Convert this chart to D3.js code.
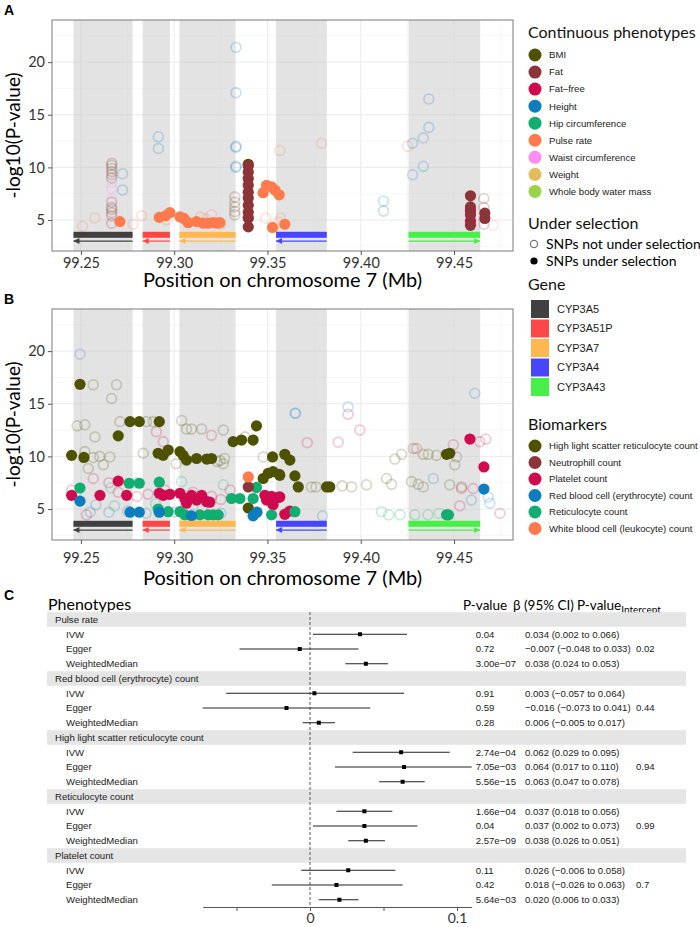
<!DOCTYPE html>
<html>
<head>
<meta charset="utf-8">
<script src="https://cdn.jsdelivr.net/npm/d3@7"></script>
<style>
body { margin: 0; background: #fff; }
text { font-family: Lato, "Open Sans", sans-serif; }
.sm { font-family: "Liberation Sans", Arial, sans-serif; font-size: 9.6px; fill: #1a1a1a; }
</style>
</head>
<body>
<script>
// ---------- genes ----------
const geneNames = ['CYP3A5', 'CYP3A51P', 'CYP3A7', 'CYP3A4', 'CYP3A43'];
const geneStart = [99.2460, 99.2831, 99.3028, 99.3546, 99.4256];
const geneEnd = [99.2777, 99.2977, 99.3329, 99.3818, 99.4640];
const geneStrand = [-1, -1, -1, -1, 1];
const geneColors = ['#404040', '#ff4646', '#ffb84f', '#4646ff', '#46f046'];

// ---------- panel A: continuous phenotypes ----------
const contNames = ['BMI', 'Fat', 'Fat\u2013free', 'Height', 'Hip circumference', 'Pulse rate',
  'Waist circumference', 'Weight', 'Whole body water mass'];
const contColors = ['#4e5200', '#8c3437', '#cf0a4f', '#0c7dbf', '#12ad70', '#ff7b4d', '#ff8cf5', '#e2bd5c', '#9bd14b'];

// SNPs under selection  [position Mb, -log10 p]
const aBMI = [[99.3397, 10.3]];
const aHip = [[99.3397, 5.2]];
const aFatFree = [[99.4588, 5.9], [99.4588, 4.9]];
const aFat = [[99.3397, 10.15], [99.3397, 9.55], [99.3397, 8.95], [99.3397, 8.3], [99.3397, 7.65], [99.3397, 7.1],
  [99.3397, 6.4], [99.3397, 5.75], [99.3397, 5.2], [99.3397, 4.35],
  [99.4588, 7.3], [99.4588, 6.25], [99.4588, 5.5], [99.4588, 4.5], [99.4665, 5.65], [99.4665, 5.15]];
const aPulse = [[99.2709, 4.85], [99.2920, 5.25], [99.2954, 5.4], [99.2977, 5.7], [99.3031, 5.3], [99.3052, 5.15],
  [99.3075, 4.75], [99.3120, 4.85], [99.3155, 4.7], [99.3182, 4.7], [99.3209, 4.75], [99.3230, 4.7], [99.3245, 4.75],
  [99.3477, 7.6], [99.3495, 8.3], [99.3522, 8.15], [99.3540, 7.85], [99.3563, 7.4], [99.3527, 4.3], [99.3593, 4.6]];

// SNPs not under selection
const aHeightNs = [[99.2723, 9.4], [99.2723, 7.85], [99.2915, 12.9], [99.2915, 11.8], [99.3331, 21.4], [99.3331, 17.1],
  [99.3331, 12.0], [99.3331, 11.9], [99.3331, 10.1], [99.3331, 10.0], [99.4365, 16.5], [99.4365, 13.8],
  [99.4335, 12.8], [99.4278, 12.3], [99.4335, 10.1], [99.4278, 9.3], [99.4122, 6.8], [99.4122, 5.85]];
const aPulseNs = [[99.2509, 4.4], [99.2575, 5.2], [99.2780, 4.6], [99.2825, 5.4], [99.2960, 5.0], [99.3060, 5.0],
  [99.3140, 5.3], [99.3170, 5.1], [99.3200, 5.5], [99.3250, 4.6], [99.3490, 5.2], [99.3570, 5.2], [99.3560, 4.8],
  [99.3790, 12.3], [99.4251, 12.0], [99.3566, 11.6]];
const aFatNs = [[99.2665, 10.4], [99.2665, 9.9], [99.2665, 9.6], [99.2665, 9.3], [99.2665, 6.7], [99.2665, 6.2],
  [99.2665, 5.7], [99.2665, 5.4], [99.2665, 4.7], [99.3325, 7.2], [99.3325, 6.25], [99.3325, 5.5],
  [99.4660, 7.05], [99.4660, 6.2], [99.4660, 4.6]];
const aBMINs = [[99.2665, 10.2], [99.2665, 9.0], [99.2665, 6.0], [99.3325, 6.7], [99.3325, 5.8]];
const aWaistNs = [[99.2665, 8.6], [99.2665, 8.0], [99.2665, 7.0], [99.4620, 4.6], [99.4710, 4.5]];

// ---------- panel B: biomarkers ----------
const bioNames = ['High light scatter reticulocyte count', 'Neutrophill count', 'Platelet count',
  'Red blood cell (erythrocyte) count', 'Reticulocyte count', 'White blood cell (leukocyte) count'];
const bioColors = ['#4e5200', '#8c3437', '#cf0a4f', '#0c7dbf', '#12ad70', '#ff7b4d'];

const bHlsr = [[99.2450, 10.1], [99.2516, 9.9], [99.2495, 16.85], [99.2700, 11.95], [99.2763, 13.3], [99.2813, 13.3],
  [99.2920, 13.3], [99.2914, 10.3], [99.2941, 10.1], [99.2968, 10.6], [99.3031, 10.45], [99.3048, 10.1],
  [99.3066, 9.65], [99.3120, 9.8], [99.3174, 9.75], [99.3200, 9.8], [99.3316, 11.4], [99.3361, 11.55],
  [99.3423, 11.55], [99.3441, 12.9], [99.3397, 5.1], [99.3477, 7.9], [99.3504, 8.4], [99.3530, 8.55],
  [99.3563, 8.3], [99.3566, 8.2], [99.3527, 9.95], [99.3593, 10.2], [99.3620, 9.65], [99.3647, 8.15],
  [99.3665, 7.1], [99.3817, 7.1], [99.3834, 7.1], [99.4460, 10.2], [99.4477, 10.3]];
const bNeutro = [[99.3397, 7.1]];
const bPlatelet = [[99.2450, 6.3], [99.2602, 6.3], [99.2700, 7.65], [99.2745, 6.3], [99.2920, 6.5], [99.2941, 6.3],
  [99.2977, 6.4], [99.3031, 6.5], [99.3057, 6.0], [99.3066, 5.55], [99.3093, 6.3], [99.3120, 5.85], [99.3147, 6.3],
  [99.3174, 5.7], [99.3191, 5.65], [99.3486, 6.3], [99.3495, 5.85], [99.3522, 6.2], [99.3530, 5.4], [99.3557, 6.1],
  [99.3566, 6.15], [99.3593, 4.5], [99.3620, 4.8], [99.4585, 11.65], [99.4660, 9.0]];
const bRbc = [[99.2495, 5.75], [99.2763, 4.7], [99.2813, 4.7], [99.2920, 4.7], [99.3093, 4.35], [99.3423, 4.35],
  [99.3444, 4.7], [99.4660, 6.9]];
const bRetic = [[99.2495, 7.0], [99.2759, 7.45], [99.2813, 7.45], [99.2920, 7.55], [99.2914, 5.0], [99.2968, 4.75],
  [99.3031, 4.75], [99.3057, 4.45], [99.3138, 4.45], [99.3182, 4.45], [99.3209, 4.45], [99.3236, 4.45],
  [99.3307, 6.0], [99.3352, 6.0], [99.3423, 6.0], [99.3441, 7.05], [99.3522, 4.45], [99.3647, 4.75],
  [99.4460, 4.45], [99.4470, 4.45]];
const bWbc = [[99.3397, 8.05]];

const bHlsrNs = [[99.2566, 16.8], [99.2691, 16.8], [99.2664, 15.5], [99.2521, 13.0], [99.2575, 11.85], [99.2709, 13.3],
  [99.2521, 10.45], [99.2566, 9.9], [99.2655, 9.95], [99.2539, 8.85], [99.2600, 10.0], [99.2620, 9.2],
  [99.2834, 10.3], [99.2852, 13.3], [99.2888, 13.3], [99.3040, 13.4], [99.3066, 12.6], [99.3093, 12.6],
  [99.3147, 12.6], [99.3263, 12.5], [99.3245, 9.6], [99.3263, 9.3], [99.3270, 9.8], [99.3379, 11.85],
  [99.3477, 9.95], [99.4183, 9.75], [99.4219, 10.2], [99.4281, 10.75], [99.4335, 10.2], [99.4362, 10.2],
  [99.4406, 10.1], [99.4513, 9.95], [99.4504, 9.2], [99.3736, 7.1], [99.3760, 7.1], [99.3900, 7.2],
  [99.3951, 7.1], [99.4031, 7.3], [99.4138, 7.9], [99.4165, 7.35], [99.4272, 7.6], [99.4308, 7.35],
  [99.4335, 7.1], [99.4477, 7.3], [99.4540, 7.1], [99.3010, 9.3], [99.3230, 9.5], [99.2480, 12.9]];
const bPlateletNs = [[99.3713, 11.3], [99.3879, 11.35], [99.3932, 14.0], [99.3995, 12.5], [99.4299, 10.75],
  [99.4496, 11.1], [99.4638, 11.4], [99.4670, 11.65], [99.4540, 6.95], [99.4602, 6.95], [99.4531, 5.3],
  [99.4746, 4.6], [99.2450, 6.8], [99.2530, 4.45], [99.2904, 12.35], [99.2941, 11.4], [99.3200, 12.0],
  [99.2566, 7.9], [99.2650, 7.5], [99.2700, 6.6], [99.2800, 6.2], [99.2950, 6.8], [99.3100, 6.6],
  [99.3200, 6.2], [99.3300, 6.8], [99.2860, 6.4], [99.3250, 5.9]];
const bRbcNs = [[99.2495, 19.7], [99.3647, 14.1], [99.3652, 14.1], [99.3932, 14.7], [99.4611, 16.0], [99.3795, 4.35],
  [99.4389, 7.9], [99.4593, 5.85], [99.4692, 5.55], [99.4683, 6.15], [99.2550, 4.7], [99.2580, 5.4],
  [99.2650, 4.7], [99.2750, 4.8], [99.2850, 4.6], [99.3000, 4.7], [99.3100, 4.5], [99.3250, 4.6]];
const bReticNs = [[99.4111, 4.75], [99.4150, 4.45], [99.4210, 4.45], [99.4290, 4.45], [99.4360, 4.45],
  [99.4420, 4.6], [99.4460, 4.45], [99.2660, 7.0], [99.2800, 7.5], [99.3040, 7.6], [99.3263, 7.3],
  [99.2680, 5.3], [99.2900, 5.5], [99.3150, 5.0]];

// ---------- panel C: forest plot ----------
const fGroups = ['Pulse rate', 'Red blood cell (erythrocyte) count', 'High light scatter reticulocyte count',
  'Reticulocyte count', 'Platelet count'];
const fMethods = ['IVW', 'Egger', 'WeightedMedian'];
const fBeta = [[0.034, -0.007, 0.038], [0.003, -0.016, 0.006], [0.062, 0.064, 0.063], [0.037, 0.037, 0.038], [0.026, 0.018, 0.020]];
const fLo = [[0.002, -0.048, 0.024], [-0.057, -0.073, -0.005], [0.029, 0.017, 0.047], [0.018, 0.002, 0.026], [-0.006, -0.026, 0.006]];
const fHi = [[0.066, 0.033, 0.053], [0.064, 0.041, 0.017], [0.095, 0.110, 0.078], [0.056, 0.073, 0.051], [0.058, 0.063, 0.033]];
const fP = [['0.04', '0.72', '3.00e-07'], ['0.91', '0.59', '0.28'], ['2.74e-04', '7.05e-03', '5.56e-15'],
  ['1.66e-04', '0.04', '2.57e-09'], ['0.11', '0.42', '5.64e-03']];
const fPint = ['0.02', '0.44', '0.94', '0.99', '0.7'];

// ================= drawing =================
const W = 700, H = 927;
const svg = d3.select('body').append('svg').attr('width', W).attr('height', H);

const x = d3.scaleLinear().domain([99.2345, 99.4816]).range([52, 513]);

function manhattan(top, bottom, layers, colors, tag, id, tickPad, titleOff) {
  const y = d3.scaleLinear().domain([2.06, 24]).range([bottom, top]);
  const g = svg.append('g');
  g.append('clipPath').attr('id', id).append('rect')
    .attr('x', x.range()[0]).attr('y', top).attr('width', x.range()[1] - x.range()[0]).attr('height', bottom - top);

  // grid
  const minX = [99.275, 99.325, 99.375, 99.425, 99.475], majX = [99.25, 99.30, 99.35, 99.40, 99.45];
  const minY = [2.5, 7.5, 12.5, 17.5, 22.5], majY = [5, 10, 15, 20];
  g.selectAll(null).data(minX).enter().append('line')
    .attr('x1', d => x(d)).attr('x2', d => x(d)).attr('y1', top).attr('y2', bottom)
    .attr('stroke', '#f2f2f2').attr('stroke-width', 0.6);
  g.selectAll(null).data(minY).enter().append('line')
    .attr('x1', x.range()[0]).attr('x2', x.range()[1]).attr('y1', d => y(d)).attr('y2', d => y(d))
    .attr('stroke', '#f2f2f2').attr('stroke-width', 0.6);
  g.selectAll(null).data(majX).enter().append('line')
    .attr('x1', d => x(d)).attr('x2', d => x(d)).attr('y1', top).attr('y2', bottom)
    .attr('stroke', '#ebebeb').attr('stroke-width', 1);
  g.selectAll(null).data(majY).enter().append('line')
    .attr('x1', x.range()[0]).attr('x2', x.range()[1]).attr('y1', d => y(d)).attr('y2', d => y(d))
    .attr('stroke', '#ebebeb').attr('stroke-width', 1);

  // gene regions
  g.selectAll(null).data(geneNames).enter().append('rect')
    .attr('x', (d, i) => x(geneStart[i])).attr('width', (d, i) => x(geneEnd[i]) - x(geneStart[i]))
    .attr('y', top).attr('height', bottom - top)
    .attr('fill', '#c8c8c8').attr('fill-opacity', 0.5);

  // points
  const pg = g.append('g').attr('clip-path', `url(#${id})`);
  layers.forEach(l => {
    pg.selectAll(null).data(l.pts).enter().append('circle')
      .attr('cx', d => x(d[0])).attr('cy', d => y(d[1]))
      .attr('r', l.sel ? 5.6 : 4.9)
      .attr('fill', l.sel ? colors[l.c] : 'none')
      .attr('stroke', l.sel ? 'none' : colors[l.c])
      .attr('stroke-width', 1.8)
      .attr('stroke-opacity', 0.22);
  });

  // gene bars + strand arrows
  const yb = y(3.6), ya = y(3.0);
  g.selectAll(null).data(geneNames).enter().append('rect')
    .attr('x', (d, i) => x(geneStart[i])).attr('width', (d, i) => x(geneEnd[i]) - x(geneStart[i]))
    .attr('y', yb - 3).attr('height', 6).attr('fill', (d, i) => geneColors[i]);
  g.selectAll(null).data(geneNames).enter().append('line')
    .attr('x1', (d, i) => x(geneStart[i])).attr('x2', (d, i) => x(geneEnd[i]))
    .attr('y1', ya).attr('y2', ya).attr('stroke', (d, i) => geneColors[i]).attr('stroke-width', 1.2);
  g.selectAll(null).data(geneNames).enter().append('path')
    .attr('d', (d, i) => {
      const tip = geneStrand[i] < 0 ? x(geneStart[i]) : x(geneEnd[i]);
      const back = tip - geneStrand[i] * 6;
      return `M${tip},${ya}L${back},${ya - 3}L${back},${ya + 3}Z`;
    })
    .attr('fill', (d, i) => geneColors[i]);

  // border
  g.append('rect').attr('x', x.range()[0]).attr('y', top)
    .attr('width', x.range()[1] - x.range()[0]).attr('height', bottom - top)
    .attr('fill', 'none').attr('stroke', '#7a7a7a').attr('stroke-width', 1);

  // axes
  const xAxis = d3.axisBottom(x).tickValues(majX).tickFormat(d3.format('.2f')).tickSize(4).tickPadding(tickPad);
  const gx = g.append('g').attr('transform', `translate(0,${bottom})`).call(xAxis);
  const yAxis = d3.axisLeft(y).tickValues(majY).tickFormat(d3.format('d')).tickSize(4).tickPadding(3);
  const gy = g.append('g').attr('transform', `translate(${x.range()[0]},0)`).call(yAxis);
  [gx, gy].forEach(a => {
    a.select('.domain').remove();
    a.selectAll('line').attr('stroke', '#555');
    a.selectAll('text').attr('fill', '#333').style('font-family', 'Lato').style('font-size', '14.5px');
  });

  g.append('text').attr('x', (x.range()[0] + x.range()[1]) / 2).attr('y', bottom + titleOff)
    .attr('text-anchor', 'middle').style('font-size', '20px').text('Position on chromosome 7 (Mb)');
  g.append('text').attr('transform', `translate(20,${(top + bottom) / 2}) rotate(-90)`)
    .attr('text-anchor', 'middle').style('font-size', '19px').text('-log10(P-value)');
  svg.append('text').attr('x', 4).attr('y', top - 5)
    .style('font-family', 'Liberation Sans').style('font-weight', 'bold').style('font-size', '14px').text(tag);
}

const layersA = [
  { pts: aFatNs, c: 1 }, { pts: aBMINs, c: 0 }, { pts: aWaistNs, c: 6 }, { pts: aHeightNs, c: 3 }, { pts: aPulseNs, c: 5 },
  { pts: aBMI, c: 0, sel: true }, { pts: aHip, c: 4, sel: true }, { pts: aFatFree, c: 2, sel: true },
  { pts: aFat, c: 1, sel: true }, { pts: aPulse, c: 5, sel: true }
];
const layersB = [
  { pts: bHlsrNs, c: 0 }, { pts: bPlateletNs, c: 2 }, { pts: bRbcNs, c: 3 }, { pts: bReticNs, c: 4 },
  { pts: bHlsr, c: 0, sel: true }, { pts: bPlatelet, c: 2, sel: true }, { pts: bRetic, c: 4, sel: true },
  { pts: bRbc, c: 3, sel: true }, { pts: bNeutro, c: 1, sel: true }, { pts: bWbc, c: 5, sel: true }
];
manhattan(20, 251, layersA, contColors, 'A', 'clipA', 3, 36);
manhattan(309, 540, layersB, bioColors, 'B', 'clipB', 9, 45);

// ---------- legends ----------
function title(txt, yy) {
  svg.append('text').attr('x', 528).attr('y', yy).style('font-size', '16px').attr('fill', '#111').text(txt);
}
title('Continuous phenotypes', 38);
svg.selectAll(null).data(contNames).enter().append('circle')
  .attr('cx', 535).attr('cy', (d, i) => 55 + i * 17.05).attr('r', 6.5).attr('fill', (d, i) => contColors[i]);
svg.selectAll(null).data(contNames).enter().append('text').attr('class', 'sm')
  .attr('x', 549).attr('y', (d, i) => 55 + i * 17.05).attr('dy', '0.35em').text(d => d);

title('Under selection', 229);
const selNames = ['SNPs not under selection', 'SNPs under selection'];
svg.selectAll(null).data(selNames).enter().append('circle')
  .attr('cx', 534).attr('cy', (d, i) => 244 + i * 17).attr('r', 3.6)
  .attr('fill', (d, i) => i ? '#000' : 'none').attr('stroke', (d, i) => i ? 'none' : '#777').attr('stroke-width', 1.3);
svg.selectAll(null).data(selNames).enter().append('text')
  .attr('x', 546).attr('y', (d, i) => 244 + i * 17).attr('dy', '0.35em').style('font-size', '14px').text(d => d);

title('Gene', 290);
svg.selectAll(null).data(geneNames).enter().append('rect')
  .attr('x', 531).attr('y', (d, i) => 300 + i * 19.5).attr('width', 18).attr('height', 18).attr('fill', (d, i) => geneColors[i]);
svg.selectAll(null).data(geneNames).enter().append('text').attr('class', 'sm').style('font-size', '11px')
  .attr('x', 557).attr('y', (d, i) => 309 + i * 19.5).attr('dy', '0.35em').text(d => d);

title('Biomarkers', 430);
svg.selectAll(null).data(bioNames).enter().append('circle')
  .attr('cx', 535).attr('cy', (d, i) => 446 + i * 16.5).attr('r', 6.5).attr('fill', (d, i) => bioColors[i]);
svg.selectAll(null).data(bioNames).enter().append('text').attr('class', 'sm')
  .attr('x', 549).attr('y', (d, i) => 446 + i * 16.5).attr('dy', '0.35em').text(d => d);

// ---------- panel C ----------
svg.append('text').attr('x', 4).attr('y', 600)
  .style('font-family', 'Liberation Sans').style('font-weight', 'bold').style('font-size', '14px').text('C');

const rows = [];
fGroups.forEach((g, gi) => {
  rows.push({ head: true, label: g });
  fMethods.forEach((m, mi) => rows.push({ label: m, gi, mi }));
});
const rowY = i => 619.5 + i * 14.75;
const fx = d3.scaleLinear().domain([-0.073, 0.110]).range([202.7, 471.7]);
const minus = s => s.replace(/-/g, '\u2212');
const f3 = d3.format('.3f');

svg.append('text').attr('x', 48).attr('y', 610).style('font-size', '16px').text('Phenotypes');
svg.append('text').attr('x', 463).attr('y', 610).style('font-size', '13.5px').text('P-value');
svg.append('text').attr('x', 513).attr('y', 610).style('font-size', '13.5px').text('\u03b2 (95% CI)');
const ph = svg.append('text').attr('x', 577).attr('y', 610).style('font-size', '13.5px');
ph.append('tspan').text('P-value');
ph.append('tspan').attr('dy', 3).style('font-size', '10px').text('Intercept');

svg.selectAll(null).data(rows.filter(r => r.head)).enter().append('rect')
  .attr('x', 47).attr('width', 639).attr('y', d => rowY(rows.indexOf(d)) - 7.3).attr('height', 14.6)
  .attr('fill', '#e5e5e5');

svg.append('line').attr('x1', fx(0)).attr('x2', fx(0)).attr('y1', 612).attr('y2', 907)
  .attr('stroke', '#444').attr('stroke-dasharray', '3,2').attr('stroke-width', 0.9);

svg.selectAll(null).data(rows).enter().append('text').attr('class', 'sm')
  .attr('x', d => d.head ? 55 : 66).attr('y', (d, i) => rowY(i)).attr('dy', '0.35em').text(d => d.label);

const est = rows.filter(r => !r.head);
svg.selectAll(null).data(est).enter().append('line')
  .attr('x1', d => fx(fLo[d.gi][d.mi])).attr('x2', d => fx(fHi[d.gi][d.mi]))
  .attr('y1', d => rowY(rows.indexOf(d))).attr('y2', d => rowY(rows.indexOf(d)))
  .attr('stroke', '#222').attr('stroke-width', 1);
svg.selectAll(null).data(est).enter().append('rect')
  .attr('x', d => fx(fBeta[d.gi][d.mi]) - 2).attr('y', d => rowY(rows.indexOf(d)) - 2)
  .attr('width', 4).attr('height', 4).attr('fill', '#000');
svg.selectAll(null).data(est).enter().append('text').attr('class', 'sm')
  .attr('x', 475.7).attr('y', d => rowY(rows.indexOf(d))).attr('dy', '0.35em')
  .text(d => minus(fP[d.gi][d.mi]));
svg.selectAll(null).data(est).enter().append('text').attr('class', 'sm')
  .attr('x', 525).attr('y', d => rowY(rows.indexOf(d))).attr('dy', '0.35em')
  .text(d => minus(`${f3(fBeta[d.gi][d.mi])} (${f3(fLo[d.gi][d.mi])} to ${f3(fHi[d.gi][d.mi])})`));
svg.selectAll(null).data(est.filter(d => d.mi === 1)).enter().append('text').attr('class', 'sm')
  .attr('x', 636).attr('y', d => rowY(rows.indexOf(d))).attr('dy', '0.35em').text(d => fPint[d.gi]);

// forest axis
const fAxis = d3.axisBottom(fx).tickValues([-0.05, 0, 0.05, 0.1])
  .tickFormat(d => (d === 0 ? '0' : d === 0.1 ? '0.1' : '')).tickSize(4).tickPadding(2).tickSizeOuter(0);
const gfa = svg.append('g').attr('transform', 'translate(0,907)').call(fAxis);
gfa.select('.domain').attr('stroke', '#555');
gfa.selectAll('line').attr('stroke', '#555');
gfa.selectAll('text').attr('fill', '#333').style('font-family', 'Lato').style('font-size', '14px');
</script>
</body>
</html>
